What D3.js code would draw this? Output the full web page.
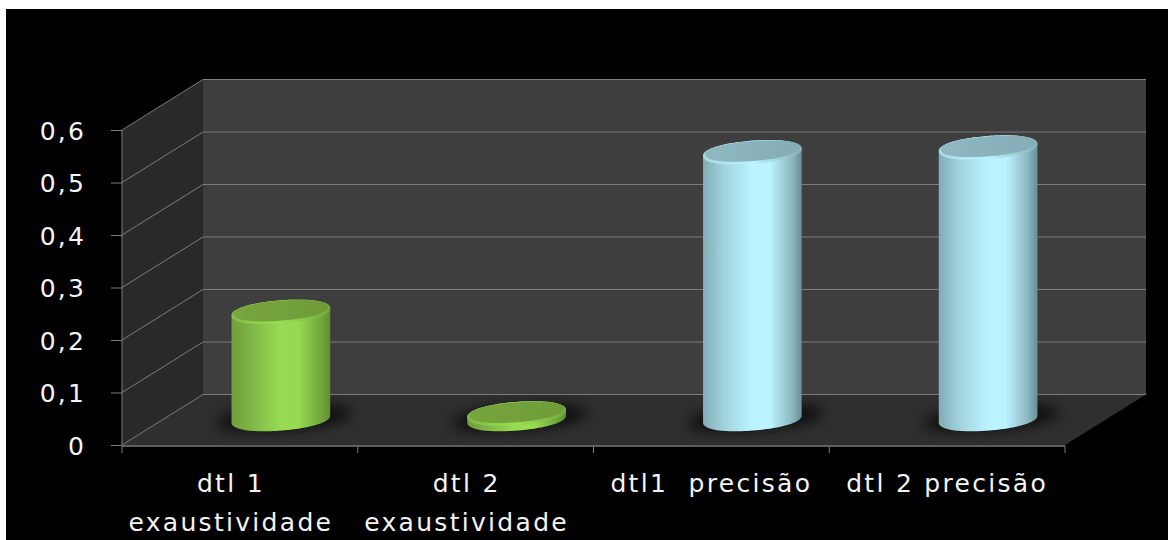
<!DOCTYPE html>
<html><head><meta charset="utf-8">
<script src="https://cdnjs.cloudflare.com/ajax/libs/d3/7.8.5/d3.min.js"></script>
<style>html,body{margin:0;padding:0;background:#fff}svg{display:block}</style>
</head><body><svg id="c" width="1168" height="540"></svg>
<script>
const categories = ["dtl 1|exaustividade", "dtl 2|exaustividade", "dtl1  precisão", "dtl 2 precisão"];
const values = [0.204, 0.0105, 0.508, 0.517];
const seriesColor = ["green", "green", "blue", "blue"];
const yTicks = [0, 0.1, 0.2, 0.3, 0.4, 0.5, 0.6];
const yTickLabels = ["0", "0,1", "0,2", "0,3", "0,4", "0,5", "0,6"];

const svg = d3.select("#c");
const W = 1168, H = 540;
svg.append("rect").attr("x", 6).attr("y", 9).attr("width", W - 6).attr("height", H - 9).attr("fill", "#000");

const x = d3.scaleBand().domain(categories).range([122, 1065]).padding(0);
const yFront = d3.scaleLinear().domain([0, 0.6]).range([445, 130]);
const depthX = 81, depthY = -50.5;
const lineCol = "#7d7d7d";
const gx = 122 + depthX, gxr = 1065 + depthX;

const defs = svg.append("defs");
function grad(id, stops) {
  const g = defs.append("linearGradient").attr("id", id).attr("x1", 0).attr("x2", 1).attr("y1", 0).attr("y2", 0);
  stops.forEach(s => g.append("stop").attr("offset", s[0]).attr("stop-color", s[1]));
}
grad("body-green", [[0, "#6fa03c"], [0.2, "#7fb547"], [0.5, "#97dc52"], [0.68, "#95d951"], [0.9, "#74a83e"], [1, "#5f8e31"]]);
grad("rim-green", [[0, "#82bd48"], [0.5, "#98e052"], [1, "#74aa3e"]]);
grad("face-green", [[0, "#76a53c"], [1, "#6f9c39"]]);
grad("body-blue", [[0, "#82abb5"], [0.2, "#a0d2dc"], [0.5, "#bbf3ff"], [0.68, "#bbf3ff"], [0.9, "#8db8c2"], [1, "#688e97"]]);
grad("rim-blue", [[0, "#a8dbe6"], [0.5, "#bbf3ff"], [1, "#88b2bc"]]);
grad("face-blue", [[0, "#8fb8c2"], [1, "#86adb7"]]);
defs.append("filter").attr("id", "shadow").attr("x", "-40%").attr("y", "-100%").attr("width", "180%").attr("height", "300%")
  .append("feGaussianBlur").attr("stdDeviation", 7);
defs.append("filter").attr("id", "soft").attr("x", "-10%").attr("y", "-10%").attr("width", "120%").attr("height", "120%")
  .append("feGaussianBlur").attr("stdDeviation", 0.7);

const poly = pts => "M" + pts.map(p => p.join(",")).join("L") + "Z";
const y0 = yFront(0), yTop = yFront(0.6);
svg.append("path").attr("fill", "#3e3e3e").attr("d", poly([[gx, yTop + depthY], [gxr, yTop + depthY], [gxr, y0 + depthY], [gx, y0 + depthY]]));
svg.append("path").attr("fill", "#292929").attr("d", poly([[122, yTop], [gx, yTop + depthY], [gx, y0 + depthY], [122, y0]]));
svg.append("path").attr("fill", "#2f2f2f").attr("d", poly([[122, y0], [gx, y0 + depthY], [gxr, y0 + depthY], [1065, y0]]));

const grid = svg.append("g").attr("fill", "none").attr("stroke", lineCol).attr("stroke-width", 1);
yTicks.forEach(t => {
  const yy = yFront(t);
  grid.append("path").attr("d", `M122,${yy}L${gx},${yy + depthY}L${gxr},${yy + depthY}`);
});

const yAxis = d3.axisLeft(yFront).tickValues(yTicks).tickFormat((d, i) => yTickLabels[i]).tickSize(11).tickPadding(25);
const ya = svg.append("g").attr("transform", "translate(122,0)").call(yAxis);
ya.selectAll("path").attr("stroke", lineCol).attr("d", `M0,${yTop}V${y0}`);
ya.selectAll("line").attr("stroke", lineCol);
ya.selectAll("text").attr("fill", "#f4f4f4").attr("font-family", "'DejaVu Sans'").attr("font-size", 25).attr("letter-spacing", 2.2).attr("dy", "0.36em");

svg.append("line").attr("x1", 122).attr("x2", 1065).attr("y1", y0 + 1).attr("y2", y0 + 1).attr("stroke", lineCol).attr("stroke-width", 1.5);
const edges = categories.map(c => x(c)).concat([x.range()[1]]);
svg.selectAll(".xt").data(edges).join("line").attr("class", "xt")
  .attr("x1", d => d).attr("x2", d => d).attr("y1", y0 + 1).attr("y2", y0 + 8).attr("stroke", lineCol);

// cylinders: slightly squared, slightly tilted ellipses
const barRx = 49.5, barRy = 11.5, rot = -4.5 * Math.PI / 180, barDepthX = 41, baseLift = 26, squareExp = 0.92;
const pxPerUnit = yFront(0) - yFront(1);
const spow = v => Math.sign(v) * Math.pow(Math.abs(v), squareExp);
function ring(cx, cy, rx, ry) {
  return d3.range(0, 360, 3).map(a => {
    const t = a * Math.PI / 180, ex = rx * spow(Math.cos(t)), ey = ry * spow(Math.sin(t));
    return [cx + ex * Math.cos(rot) - ey * Math.sin(rot), cy + ex * Math.sin(rot) + ey * Math.cos(rot)];
  });
}
const bars = svg.append("g").selectAll("g").data(categories).join("g");
bars.each(function (c, i) {
  const g = d3.select(this);
  const cx = x(c) + x.bandwidth() / 2 + barDepthX;
  const by = y0 - baseLift, ty = by - values[i] * pxPerUnit;
  const col = seriesColor[i];
  g.append("path").attr("d", poly(ring(cx + 3, by - 1, barRx + 18, barRy))).attr("fill", "#000").attr("opacity", 0.75).attr("filter", "url(#shadow)");
  const hull = d3.polygonHull(ring(cx, by, barRx, barRy).concat(ring(cx, ty, barRx, barRy)));
  g.append("path").attr("d", poly(hull)).attr("fill", `url(#body-${col})`);
  g.append("path").attr("d", poly(ring(cx, ty, barRx, barRy))).attr("fill", `url(#rim-${col})`).attr("filter", "url(#soft)");
  g.append("path").attr("d", poly(ring(cx, ty - 1.2, barRx - 2, barRy - 1.6))).attr("fill", `url(#face-${col})`).attr("filter", "url(#soft)");
});

const labels = svg.append("g").attr("fill", "#f4f4f4").attr("font-family", "'DejaVu Sans'").attr("font-size", 25).attr("letter-spacing", 2.3).attr("text-anchor", "middle");
categories.forEach(c => {
  const cx = x(c) + x.bandwidth() / 2, parts = c.split("|");
  parts.forEach((p, k) => labels.append("text").attr("xml:space", "preserve").style("white-space", "pre")
    .attr("x", parts.length > 1 ? cx - 9 : cx).attr("y", 492 + k * 39).text(p));
});
</script></body></html>
